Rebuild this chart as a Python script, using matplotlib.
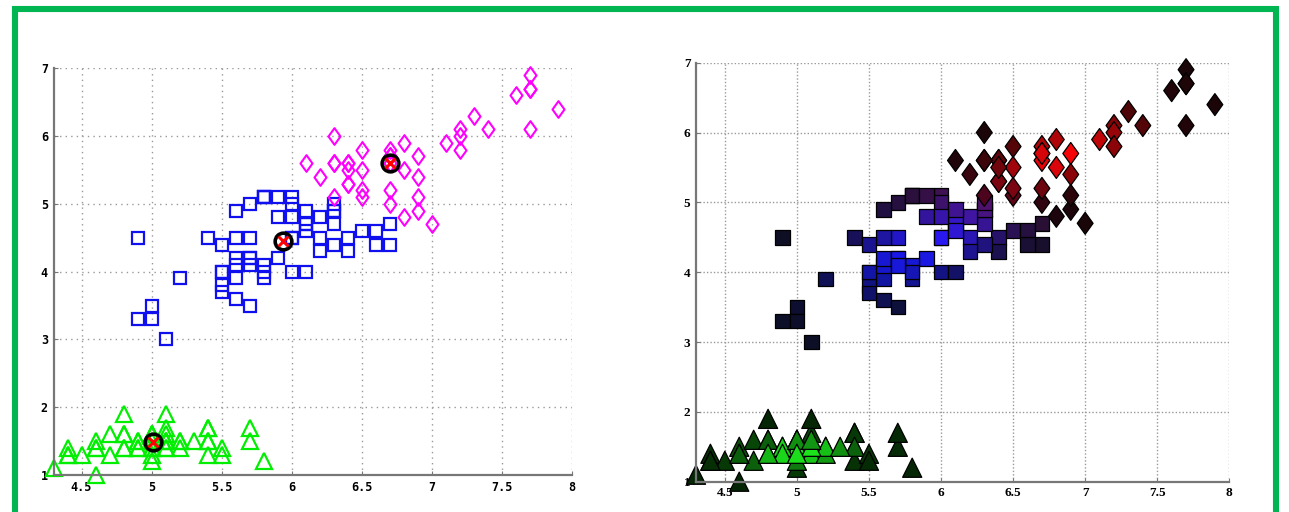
import numpy as np
import matplotlib
matplotlib.use("Agg")
from matplotlib import pyplot as plt
from matplotlib.path import Path
from matplotlib.patches import Rectangle

# iris: sepal length (x) vs petal length (y), split in the 3 clusters shown
c1_x = [5.1, 4.9, 4.7, 4.6, 5.0, 5.4, 4.6, 5.0, 4.4, 4.9, 5.4, 4.8, 4.8, 4.3, 5.8, 5.7, 5.4,
        5.1, 5.7, 5.1, 5.4, 5.1, 4.6, 5.1, 4.8, 5.0, 5.0, 5.2, 5.2, 4.7, 4.8, 5.4, 5.2, 5.5,
        4.9, 5.0, 5.5, 4.9, 4.4, 5.1, 5.0, 4.5, 4.4, 5.0, 5.1, 4.8, 5.1, 4.6, 5.3, 5.0]
c1_y = [1.4, 1.4, 1.3, 1.5, 1.4, 1.7, 1.4, 1.5, 1.4, 1.5, 1.5, 1.6, 1.4, 1.1, 1.2, 1.5, 1.3,
        1.4, 1.7, 1.5, 1.7, 1.5, 1.0, 1.7, 1.9, 1.6, 1.6, 1.5, 1.4, 1.6, 1.6, 1.5, 1.5, 1.4,
        1.5, 1.2, 1.3, 1.4, 1.3, 1.5, 1.3, 1.3, 1.3, 1.6, 1.9, 1.4, 1.6, 1.4, 1.5, 1.4]

c2_x = [6.4, 5.5, 6.5, 5.7, 6.3, 4.9, 6.6, 5.2, 5.0, 5.9, 6.0, 6.1, 5.6, 6.7, 5.6, 5.8, 6.2,
        5.6, 5.9, 6.1, 6.3, 6.1, 6.4, 6.6, 6.0, 5.7, 5.5, 5.5, 5.8, 6.0, 5.4, 6.0, 6.7, 6.3,
        5.6, 5.5, 5.5, 6.1, 5.8, 5.0, 5.6, 5.7, 5.7, 6.2, 5.1, 5.7,
        5.8, 4.9, 5.7, 5.8, 6.0, 5.6, 6.3, 6.2, 6.1, 6.0, 5.8, 6.3, 5.9]
c2_y = [4.5, 4.0, 4.6, 4.5, 4.7, 3.3, 4.6, 3.9, 3.5, 4.2, 4.0, 4.7, 3.6, 4.4, 4.5, 4.1, 4.5,
        3.9, 4.8, 4.0, 4.9, 4.7, 4.3, 4.4, 4.5, 3.5, 3.8, 3.7, 3.9, 5.1, 4.5, 4.5, 4.7, 4.4,
        4.1, 4.0, 4.4, 4.6, 4.0, 3.3, 4.2, 4.2, 4.2, 4.3, 3.0, 4.1,
        5.1, 4.5, 5.0, 5.1, 5.0, 4.9, 4.9, 4.8, 4.9, 4.8, 5.1, 5.0, 5.1]

c3_x = [7.0, 6.9, 6.8, 6.7,
        6.3, 7.1, 6.3, 6.5, 7.6, 7.3, 6.7, 7.2, 6.5, 6.4, 6.8, 6.4, 6.5, 7.7, 7.7, 6.9, 7.7,
        6.7, 7.2, 6.4, 7.2, 7.4, 7.9, 6.4, 6.3, 6.1, 7.7, 6.3, 6.4, 6.9, 6.7, 6.9, 6.8, 6.7,
        6.7, 6.5, 6.2]
c3_y = [4.7, 4.9, 4.8, 5.0,
        6.0, 5.9, 5.6, 5.8, 6.6, 6.3, 5.8, 6.1, 5.1, 5.3, 5.5, 5.3, 5.5, 6.7, 6.9, 5.7, 6.7,
        5.7, 6.0, 5.6, 5.8, 6.1, 6.4, 5.6, 5.1, 5.6, 6.1, 5.6, 5.5, 5.4, 5.6, 5.1, 5.9, 5.7,
        5.2, 5.2, 5.4]

# centroids as drawn in the left panel
cent_x = [5.01, 5.94, 6.70]
cent_y = [1.48, 4.45, 5.60]

xticks = [4.5, 5, 5.5, 6, 6.5, 7, 7.5, 8]
xtick_labels = ["4.5", "5", "5.5", "6", "6.5", "7", "7.5", "8"]
yticks = [1, 2, 3, 4, 5, 6, 7]

# thin diamond marker
diamond = Path([(0, 1), (0.72, 0), (0, -1), (-0.72, 0), (0, 1)],
               [Path.MOVETO, Path.LINETO, Path.LINETO, Path.LINETO, Path.CLOSEPOLY])

fig = plt.figure(figsize=(12.89, 5.12), dpi=100)
W, H = 1289.0, 512.0

# green frame round the figure
fig.patches.append(Rectangle((15 / W, -0.2), 1261 / W, (H - 9) / H + 0.2,
                             transform=fig.transFigure, fill=False,
                             edgecolor="#00b552", linewidth=4.4))


def style_axes(ax, font, dots):
    ax.set_xlim(4.3, 8)
    ax.set_ylim(1, 7)
    ax.set_xticks(xticks)
    ax.set_xticklabels(xtick_labels)
    ax.set_yticks(yticks)
    for s in ["top", "right"]:
        ax.spines[s].set_visible(False)
    for s in ["left", "bottom"]:
        ax.spines[s].set_color("#777777")
        ax.spines[s].set_linewidth(1.6)
    ax.grid(True, linestyle=(0, dots), color="#999999", linewidth=1)
    ax.tick_params(direction="in", length=3, color="#777777", pad=4)
    for lab in ax.get_xticklabels() + ax.get_yticklabels():
        lab.set_fontproperties(font)
    ax.set_axisbelow(True)


# ---- left: k-means clusters with centroids
ax1 = fig.add_axes([53.5 / W, 1 - 475 / H, (571.7 - 53.5) / W, (475 - 68.3) / H])
ax1.plot(c1_x, c1_y, "^", ms=11, mfc="none", mec="#00ee00", mew=1.6, clip_on=False)
ax1.plot(c2_x, c2_y, "s", ms=8, mfc="none", mec="#1010ee", mew=1.6, clip_on=False)
ax1.plot(c3_x, c3_y, marker=diamond, ls="none", ms=12, mfc="none", mec="#ff00ff", mew=1.5,
         clip_on=False)
ax1.plot(cent_x, cent_y, "o", ms=12, mfc="none", mec="black", mew=2.6, ls="none")
ax1.plot(cent_x, cent_y, "x", ms=7, mec="#ff0000", mew=2.2, ls="none")
style_axes(ax1, {"family": "DejaVu Sans Mono", "weight": "bold", "size": 8.5}, (1, 3))


# ---- right: colour from a gaussian fit of each cluster (R, G, B channels)
def gauss(px, py, cx, cy, k):
    m = np.array([np.mean(cx), np.mean(cy)])
    inv = np.linalg.inv(np.cov(cx, cy))
    d = np.stack([np.asarray(px) - m[0], np.asarray(py) - m[1]], axis=1)
    return np.exp(-0.5 * k * np.einsum("ij,jk,ik->i", d, inv, d))


px, py = c1_x, c1_y
g = 0.15 + 0.82 * gauss(px, py, c1_x, c1_y, 2.0)
col1 = np.stack([g * 0.12, g, g * 0.12], axis=1)

px, py = c2_x, c2_y
b = 0.14 + 0.86 * gauss(px, py, c2_x, c2_y, 1.3)
r = 0.05 + 0.4 * gauss(px, py, c3_x, c3_y, 0.5)
col2 = np.stack([r, 0.05 + 0.05 * b, b], axis=1)

px, py = c3_x, c3_y
r = 0.1 + 0.88 * gauss(px, py, c3_x, c3_y, 2.0)
b = 0.03 + 0.3 * gauss(px, py, c2_x, c2_y, 1.2)
col3 = np.stack([r, 0.02 + 0.0 * r, b], axis=1)

ax2 = fig.add_axes([696 / W, 1 - 481.7 / H, (1229.3 - 696) / W, (481.7 - 62.7) / H])
ax2.scatter(c1_x, c1_y, marker="^", s=190, c=col1.clip(0, 1), edgecolors="black",
            linewidths=0.9, clip_on=False)
ax2.scatter(c2_x, c2_y, marker="s", s=110, c=col2.clip(0, 1), edgecolors="black",
            linewidths=0.9, clip_on=False)
ax2.scatter(c3_x, c3_y, marker=diamond, s=250, c=col3.clip(0, 1), edgecolors="black",
            linewidths=0.9, clip_on=False)
style_axes(ax2, {"family": "Liberation Serif", "weight": "bold", "size": 9.5}, (1, 1.5))

fig.savefig("out.png", dpi=100)
